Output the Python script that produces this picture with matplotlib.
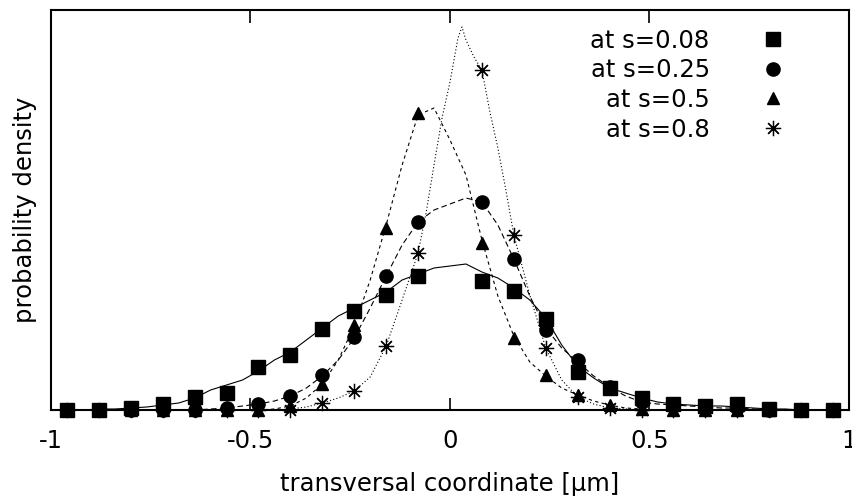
import numpy as np
import matplotlib
matplotlib.use('Agg')
import matplotlib.pyplot as plt

plt.rcParams['font.family'] = ['DejaVu Sans']

# marker positions (transversal coordinate, um)
xm = [-0.96, -0.88, -0.80, -0.72, -0.64, -0.56, -0.48, -0.40, -0.32, -0.24, -0.16, -0.08,
      0.08, 0.16, 0.24, 0.32, 0.40, 0.48, 0.56, 0.64, 0.72, 0.80, 0.88, 0.96]

pts_008 = [0.00, 0.00, 0.02, 0.06, 0.13, 0.17, 0.43, 0.55, 0.81, 0.99, 1.15, 1.34,
           1.29, 1.19, 0.91, 0.38, 0.22, 0.12, 0.06, 0.04, 0.06, 0.01, 0.00, 0.00]
pts_025 = [0.00, 0.00, 0.00, 0.00, 0.00, 0.02, 0.06, 0.14, 0.35, 0.73, 1.34, 1.88,
           2.08, 1.51, 0.80, 0.50, 0.23, 0.08, 0.05, 0.03, 0.02, 0.00, 0.00, 0.00]
pts_05 = [0.00, 0.00, 0.00, 0.00, 0.00, 0.00, 0.00, 0.04, 0.26, 0.85, 1.82, 2.97,
          1.67, 0.72, 0.35, 0.15, 0.05, 0.01, 0.00, 0.00, 0.00, 0.00, 0.00, 0.00]
pts_08 = [0.00, 0.00, 0.00, 0.00, 0.00, 0.00, 0.00, 0.00, 0.07, 0.19, 0.64, 1.57,
          3.40, 1.75, 0.62, 0.13, 0.02, 0.00, 0.00, 0.00, 0.00, 0.00, 0.00, 0.00]

# line curves, read every 0.04 from -1 to 1
xl = np.linspace(-1, 1, 51)
line_008 = [0, 0, 0, 0.01, 0.01, 0.02, 0.03, 0.05, 0.07, 0.12, 0.20, 0.25, 0.30, 0.39, 0.50,
            0.58, 0.70, 0.82, 0.94, 1.02, 1.10, 1.18, 1.30, 1.36, 1.42, 1.44, 1.46, 1.38,
            1.32, 1.22, 1.10, 0.92, 0.65, 0.44, 0.32, 0.22, 0.17, 0.12, 0.08, 0.06, 0.05,
            0.04, 0.04, 0.03, 0.02, 0.01, 0.01, 0, 0, 0, 0]
line_025 = [0, 0, 0, 0, 0, 0, 0, 0, 0, 0,
            0.01, 0.02, 0.04, 0.06, 0.09, 0.14, 0.22, 0.34, 0.50, 0.72, 1.02, 1.34, 1.65,
            1.88, 2.00, 2.06, 2.12, 2.08, 1.85, 1.51, 1.14, 0.82, 0.62, 0.48, 0.34, 0.23,
            0.14, 0.08, 0.06, 0.05, 0.04, 0.03, 0.02, 0.02, 0.01,
            0, 0, 0, 0, 0, 0]
line_05 = [0, 0, 0, 0, 0, 0, 0, 0, 0, 0, 0, 0, 0, 0,
           0.01, 0.04, 0.12, 0.26, 0.50, 0.84, 1.30, 1.85, 2.45, 2.95, 3.02, 2.70, 2.35,
           1.70, 1.14, 0.74, 0.48, 0.34, 0.22, 0.15, 0.09, 0.05, 0.02, 0.01,
           0, 0, 0, 0, 0, 0, 0, 0, 0, 0, 0, 0, 0]
xl_08 = [-1.00, -0.92, -0.84, -0.76, -0.68, -0.60, -0.52, -0.44, -0.40, -0.36, -0.32, -0.28,
         -0.24, -0.20, -0.16, -0.12, -0.08, -0.06, -0.04, -0.02, 0.00, 0.02, 0.03, 0.04,
         0.06, 0.08, 0.10, 0.12, 0.14, 0.16, 0.20, 0.24, 0.28, 0.32, 0.36, 0.40, 0.44,
         0.48, 0.56, 0.64, 0.72, 0.80, 0.88, 1.00]
line_08 = [0, 0, 0, 0, 0, 0, 0, 0, 0.01, 0.03, 0.07, 0.12,
           0.19, 0.33, 0.64, 1.10, 1.57, 1.97, 2.45, 2.92, 3.28, 3.72, 3.83, 3.70,
           3.53, 3.40, 2.98, 2.62, 2.20, 1.75, 1.15, 0.62, 0.30, 0.13, 0.06, 0.02, 0.01,
           0, 0, 0, 0, 0, 0, 0]

fig = plt.figure(figsize=(8.53, 4.97), dpi=100)
ax = fig.add_axes([51 / 853, 87 / 497, 798 / 853, 400 / 497])

ax.plot(xl, line_008, color='black', lw=0.8, ls='-')
ax.plot(xl, line_025, color='black', lw=0.8, ls=(0, (5, 3)))
ax.plot(xl, line_05, color='black', lw=0.8, ls=(0, (3, 3)))
ax.plot(xl_08, line_08, color='black', lw=0.8, ls=(0, (1, 2)))

ax.plot(xm, pts_008, ls='none', marker='s', ms=9.5, color='black', clip_on=False, label='at s=0.08')
ax.plot(xm, pts_025, ls='none', marker='o', ms=9.5, color='black', clip_on=False, label='at s=0.25')
ax.plot(xm, pts_05, ls='none', marker='^', ms=8.5, color='black', clip_on=False, label='at s=0.5')
ax.plot(xm, pts_08, ls='none', marker=(8, 2, 0), ms=11, mew=0.9, color='black', clip_on=False, label='at s=0.8')

ax.set_xlim(-1, 1)
ax.set_ylim(0, 4)
ax.set_xticks([-1, -0.5, 0, 0.5, 1])
ax.set_xticklabels(['-1', '-0.5', '0', '0.5', '1'])
ax.set_yticks([])
ax.tick_params(axis='x', direction='in', length=9, width=1.2, top=True, labelsize=17.5, pad=14)
for s in ax.spines.values():
    s.set_linewidth(1.5)

ax.set_xlabel('transversal coordinate [μm]', fontsize=17.5, labelpad=13.5)
ax.set_ylabel('probability density', fontsize=17.5, labelpad=10)

leg = ax.legend(loc='upper right', bbox_to_anchor=(0.935, 0.953), frameon=False, markerfirst=False,
                numpoints=1, fontsize=17.5, handlelength=2, handletextpad=1.6,
                labelspacing=0.23, borderpad=0, borderaxespad=0)

fig.savefig('out.png', dpi=100)
